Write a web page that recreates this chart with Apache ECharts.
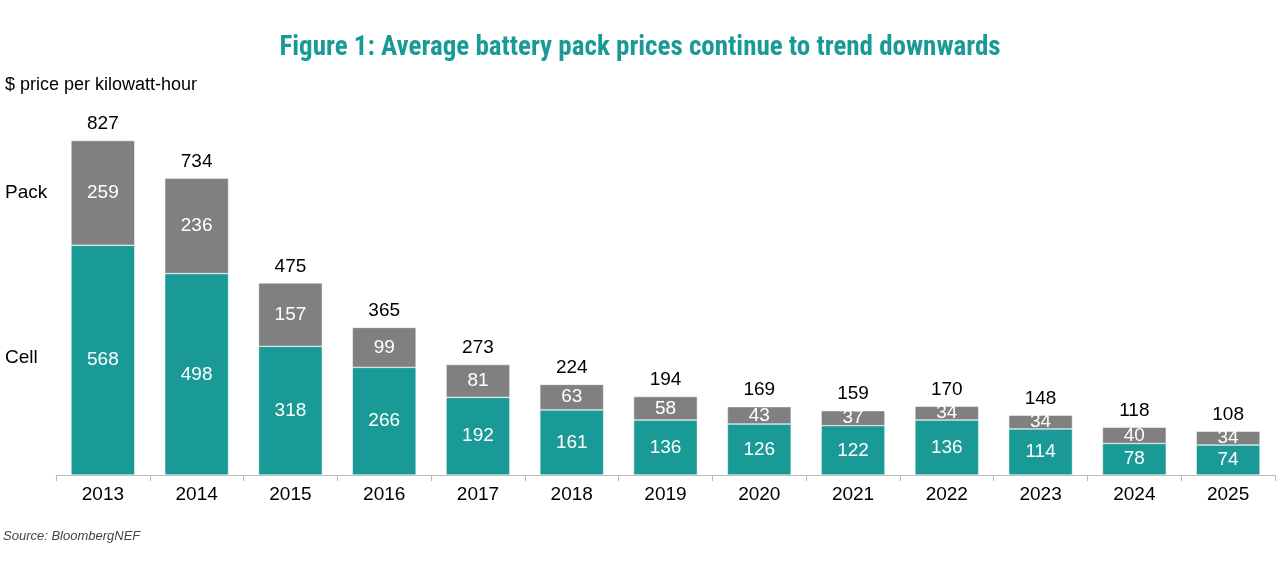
<!DOCTYPE html>
<html><head><meta charset="utf-8">
<script src="https://cdn.jsdelivr.net/npm/echarts@6/dist/echarts.min.js"></script>
<style>html,body{margin:0;padding:0;background:#fff}#c{width:1280px;height:570px}</style>
</head><body><div id="c"></div>
<script>
const years = ['2013','2014','2015','2016','2017','2018','2019','2020','2021','2022','2023','2024','2025'];
const cell = [568,498,318,266,192,161,136,126,122,136,114,78,74];
const pack = [259,236,157,99,81,63,58,43,37,34,34,40,34];
const totals = [827,734,475,365,273,224,194,169,159,170,148,118,108];
const chart = echarts.init(document.getElementById('c'));
const lbl = {show:true,position:'inside',color:'#fff',fontSize:19,fontFamily:'Arial'};
chart.setOption({
  animation:false,
  title:{text:'Figure 1: Average battery pack prices continue to trend downwards',left:'center',top:30,
    textStyle:{color:'#1a9a96',fontSize:27,fontWeight:'bold',fontFamily:'Roboto Condensed, Roboto, Arial'}},
  graphic:[
    {type:'text',left:5,top:76,style:{text:'$ price per kilowatt-hour',fontSize:18,fontFamily:'Arial',fill:'#000'}},
    {type:'text',left:5,top:183,style:{text:'Pack',fontSize:19,fontFamily:'Arial',fill:'#000'}},
    {type:'text',left:5,top:348,style:{text:'Cell',fontSize:19,fontFamily:'Arial',fill:'#000'}},
    {type:'text',left:3,top:530,style:{text:'Source: BloombergNEF',fontSize:13,fontStyle:'italic',fontFamily:'Arial',fill:'#444'}}
  ],
  grid:{left:56,right:5,top:111,bottom:95},
  xAxis:{type:'category',data:years,axisLine:{lineStyle:{color:'#bbb'}},axisTick:{show:true,length:6,lineStyle:{color:'#bbb'}},
    axisLabel:{color:'#000',fontSize:19,fontFamily:'Arial',margin:10}},
  yAxis:{type:'value',min:0,max:900,show:false,splitLine:{show:false}},
  series:[
    {type:'bar',stack:'a',data:cell,barWidth:'68%',itemStyle:{color:'#1a9a96',borderColor:'#fff',borderWidth:0.5},label:lbl},
    {type:'bar',stack:'a',data:pack,itemStyle:{color:'#808080',borderColor:'#fff',borderWidth:0.5},label:lbl},
    {type:'bar',stack:'a',data:totals.map(()=>0),itemStyle:{color:'transparent'},
      label:{show:true,position:'top',distance:7,color:'#000',fontSize:19,fontFamily:'Arial',formatter:p=>totals[p.dataIndex]}}
  ]
});
</script></body></html>
